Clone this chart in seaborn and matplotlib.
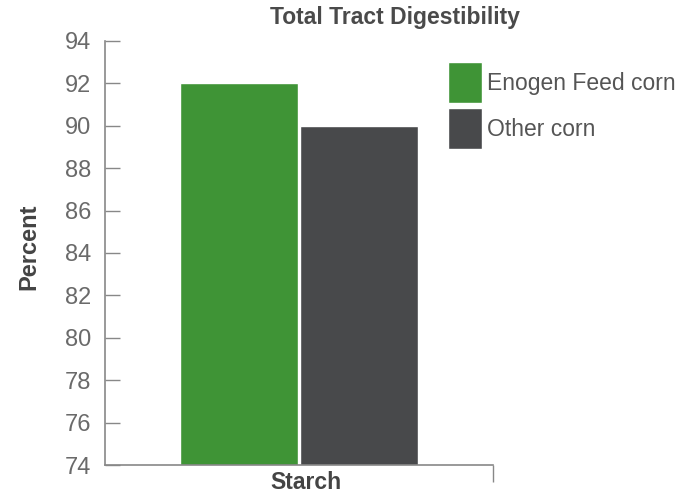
import matplotlib
matplotlib.use("Agg")
import matplotlib.pyplot as plt
import matplotlib.transforms as mtransforms
import pandas as pd
import seaborn as sns

categories = ["Starch"]
series_names = ["Enogen Feed corn", "Other corn"]
enogen_values = [92.0]
other_values = [90.0]
y_ticks = [74, 76, 78, 80, 82, 84, 86, 88, 90, 92, 94]

df = pd.DataFrame({
    "category": categories * 2,
    "series": [series_names[0]] * len(categories) + [series_names[1]] * len(categories),
    "value": enogen_values + other_values,
})

sns.set_theme(style="white")
plt.rcParams["font.family"] = ["Liberation Sans", "DejaVu Sans"]

palette = {"Enogen Feed corn": "#3f9436", "Other corn": "#48494b"}

fig = plt.figure(figsize=(6.9, 4.99), dpi=100)
ax = fig.add_axes([0.152, 0.068, 0.562, 0.85])

sns.barplot(data=df, x="category", y="value", hue="series", palette=palette,
            width=0.62, gap=0.02, saturation=1, ax=ax)

ax.set_ylim(74, 94)
ax.set_yticks(y_ticks)
ax.set_xlim(-0.5, 0.5)
ax.set_xlabel("")
ax.set_ylabel("Percent", fontsize=17, color="#444444", fontweight="bold")
ax.yaxis.set_label_coords(-0.166, 0.514)
ax.tick_params(axis="y", direction="in", length=11, width=1, color="#888888",
               labelcolor="#6a6a6a", labelsize=17, pad=10, left=True)
ax.tick_params(axis="x", length=0, labelcolor="#444444", labelsize=16.5, pad=4)
ax.set_xticks([0.5], minor=True)
ax.tick_params(axis="x", which="minor", direction="out", length=12, width=1, color="#888888", bottom=True)
shift = mtransforms.ScaledTranslation(7 / 100, 0, fig.dpi_scale_trans)
for lbl in ax.get_xticklabels():
    lbl.set_fontweight("bold")
    lbl.set_transform(lbl.get_transform() + shift)

for side in ["top", "right"]:
    ax.spines[side].set_visible(False)
for side in ["left", "bottom"]:
    ax.spines[side].set_color("#888888")
    ax.spines[side].set_linewidth(1.2)

handles, labels = ax.get_legend_handles_labels()
ax.legend(handles, labels, loc="upper left", bbox_to_anchor=(0.649, 0.876),
          bbox_transform=fig.transFigure, frameon=False, fontsize=16.5,
          handlelength=1.5, handleheight=2.4, handletextpad=0.2, labelspacing=0.2,
          borderpad=0, borderaxespad=0, labelcolor="#555555")

fig.text(0.572, 0.964, "Total Tract Digestibility", ha="center", va="center",
         fontsize=16.5, fontweight="bold", color="#4a4a4a")

fig.savefig("out.png", dpi=100)
